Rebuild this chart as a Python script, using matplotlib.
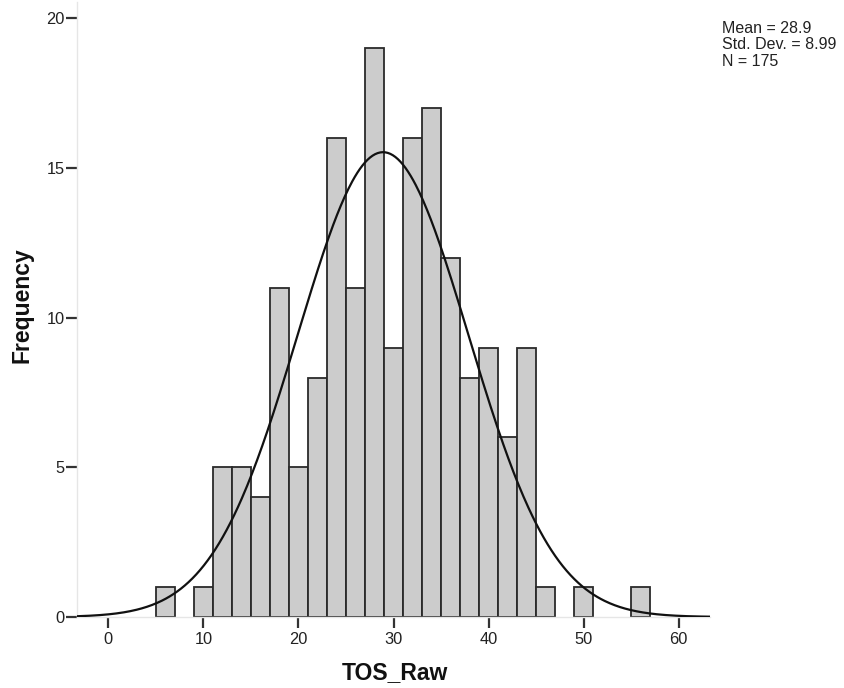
import numpy as np
import matplotlib
matplotlib.use("Agg")
import matplotlib.pyplot as plt

plt.rcParams['font.family'] = ['Liberation Sans', 'DejaVu Sans']

bin_edges = [5, 7, 9, 11, 13, 15, 17, 19, 21, 23, 25, 27, 29, 31, 33, 35, 37,
             39, 41, 43, 45, 47, 49, 51, 53, 55, 57]
counts = [1, 0, 1, 5, 5, 4, 11, 5, 8, 16, 11, 19, 9, 16, 17, 12, 8, 9, 6, 9,
          1, 0, 1, 0, 0, 1]
mean = 28.9
sd = 8.99
n = 175
x_ticks = [0, 10, 20, 30, 40, 50, 60]
y_ticks = [0, 5, 10, 15, 20]

fig = plt.figure(figsize=(8.45, 6.88), dpi=100)
ax = fig.add_axes([77/845, 1-617/688, (710-77)/845, (617-2)/688])

lefts = np.array(bin_edges[:-1])
widths = np.diff(bin_edges)
for l, w, c in zip(lefts, widths, counts):
    if c > 0:
        ax.bar(l, c, width=w, align='edge', color='#cccccc',
               edgecolor='#2a2a2a', linewidth=1.3, zorder=2)

xmin, xmax = -3.3, 63.3
xs = np.linspace(xmin, xmax, 500)
binw = 2
ys = n * binw / (sd * np.sqrt(2*np.pi)) * np.exp(-0.5*((xs-mean)/sd)**2)
ax.plot(xs, ys, color='#111111', linewidth=1.6, zorder=3)

ax.set_xlim(xmin, xmax)
ax.set_ylim(0, 20.55)
ax.set_xticks(x_ticks)
ax.set_yticks(y_ticks)
for s in ['top', 'right']:
    ax.spines[s].set_visible(False)
for s in ['left', 'bottom']:
    ax.spines[s].set_color('#e6e6e6')
    ax.spines[s].set_linewidth(1.0)
ax.tick_params(axis='both', direction='out', length=8, width=1.6,
               color='#333333', labelsize=11.8, labelcolor='#222222')
ax.tick_params(axis='y', pad=1)
ax.tick_params(axis='x', pad=3)

fig.text(395/845, 1-679/688, 'TOS_Raw', fontsize=16.5, fontweight='bold',
         ha='center', va='baseline', color='#111111')
fig.text(22/845, 1-305/688, 'Frequency', fontsize=16.5, fontweight='bold',
         ha='center', va='center', rotation=90, color='#111111')

fig.text(722/845, 1-21/688, 'Mean = 28.9\nStd. Dev. = 8.99\nN = 175',
         fontsize=11.5, color='#222222', va='top', ha='left', linespacing=1.12)

fig.savefig('out.png', dpi=100)
